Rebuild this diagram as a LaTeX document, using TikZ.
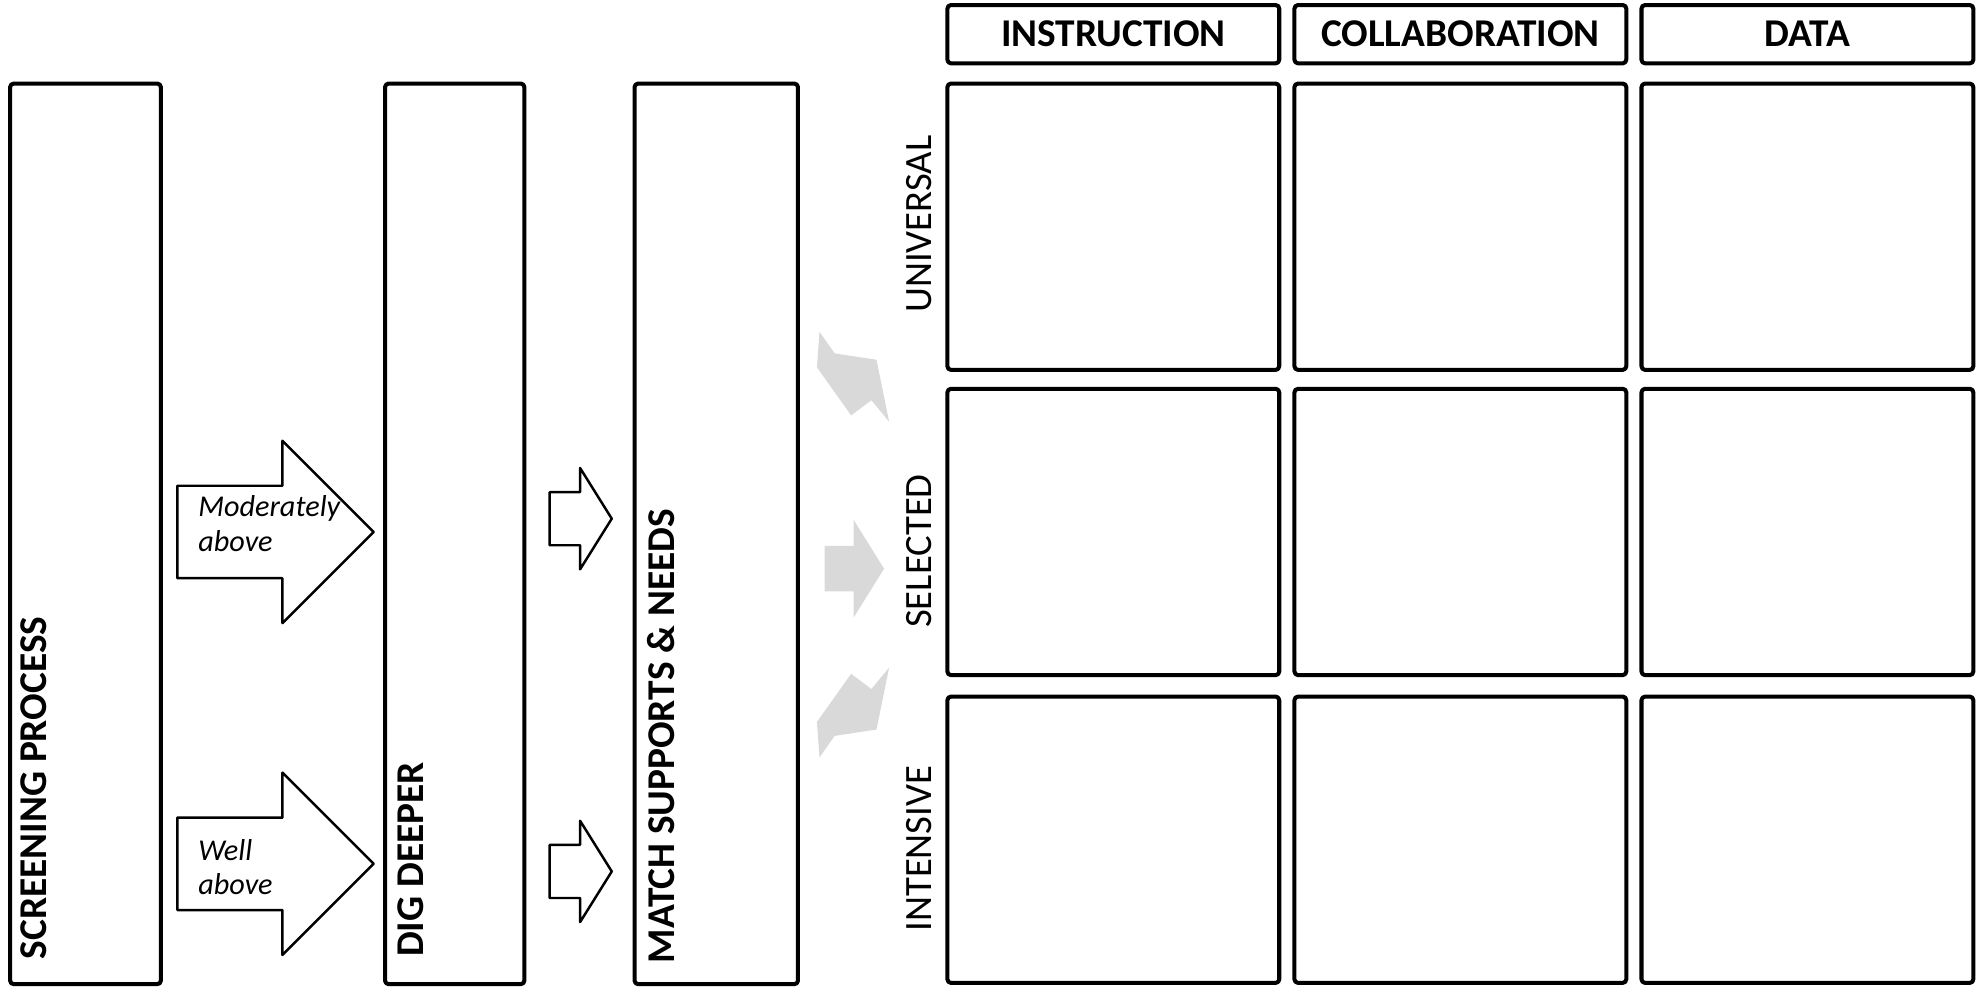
\documentclass[tikz,border=0pt]{standalone}
\usepackage{fontspec}
\setmainfont{Carlito}
\begin{document}
\begin{tikzpicture}[x=0.012666cm,y=-0.012666cm,line join=round,
  frame/.style={draw,line width=1.15pt,rounded corners=1pt},
  blockarrow/.style={draw,line width=0.7pt,fill=white},
  grayarrow/.style={fill=black!15},
  headtxt/.style={font=\fontsize{11.2}{13}\selectfont\bfseries,inner sep=0pt},
  steptxt/.style={font=\fontsize{11.2}{13}\selectfont\bfseries,rotate=90,anchor=west,inner sep=0pt},
  tiertxt/.style={font=\fontsize{11}{13}\selectfont,rotate=90,inner sep=0pt},
  leveltxt/.style={font=\fontsize{8.6}{9.8}\selectfont\itshape,align=left,anchor=west,inner sep=0pt}]
\useasboundingbox (0,0) rectangle (1568,783.2);
% process steps
\draw[frame] (8,66) rectangle (127,777);
\draw[frame] (304,66) rectangle (414,777);
\draw[frame] (501,66) rectangle (630,777);
\node[steptxt] (screen) at (26.5,758) {SCREENING PROCESS};
\node[steptxt] (dig) at (324,756) {DIG DEEPER};
\node[steptxt] (match) at (522,761) {MATCH SUPPORTS \& NEEDS};
% screening -> dig deeper
\foreach \ay in {420,682}
  \draw[blockarrow] (140,\ay-36.5) -- (223,\ay-36.5) -- (223,\ay-72) -- (295,\ay)
    -- (223,\ay+72) -- (223,\ay+36.5) -- (140,\ay+36.5) -- cycle;
\node[leveltxt] (moderate) at (156,413.5) {Moderately\\above};
\node[leveltxt] (well) at (156,684.5) {Well\\above};
% dig deeper -> match
\foreach \ay in {409.5,688}
  \draw[blockarrow] (434,\ay-21) -- (458,\ay-21) -- (458,\ay-40) -- (483,\ay)
    -- (458,\ay+40) -- (458,\ay+21) -- (434,\ay+21) -- cycle;
% match -> tiers
\fill[grayarrow] (651,431) -- (674,431) -- (674,410.5) -- (698,449)
  -- (674,487.5) -- (674,467) -- (651,467) -- cycle;
\fill[grayarrow] (647,262) -- (659,279) -- (692,284) -- (702,333)
  -- (688,316) -- (672,328) -- (645,290) -- cycle;
\fill[grayarrow] (647,598) -- (659,581) -- (692,576) -- (702,527)
  -- (688,544) -- (672,532) -- (645,570) -- cycle;
% tiers
\node[tiertxt] (universal) at (725.5,177) {UNIVERSAL};
\node[tiertxt] (selected) at (725.5,435) {SELECTED};
\node[tiertxt] (intensive) at (725.5,670) {INTENSIVE};
% grid
\foreach \cx/\name in {748/INSTRUCTION,1022/COLLABORATION,1296/DATA}{
  \draw[frame] (\cx,4) rectangle ++(262,46);
  \node[headtxt] (\name) at (\cx+131,27) {\name};
  \foreach \ry in {66,307,550}
    \draw[frame] (\cx,\ry) rectangle ++(262,226);
}
\end{tikzpicture}
\end{document}
